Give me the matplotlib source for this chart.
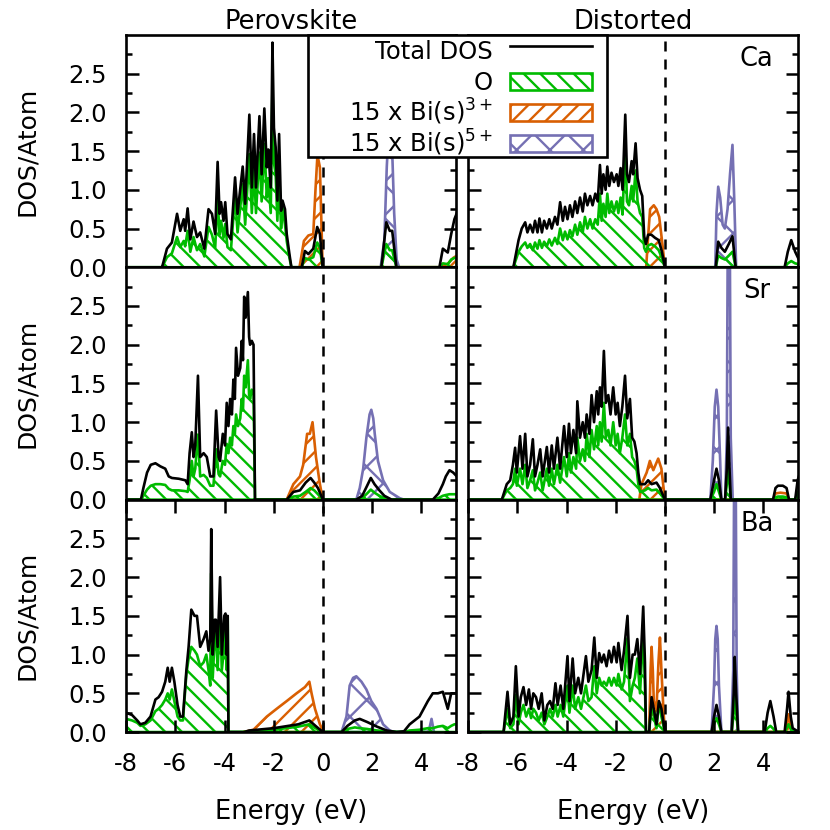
import matplotlib
matplotlib.use("Agg")
import matplotlib.pyplot as plt
from matplotlib.lines import Line2D
from matplotlib.patches import Patch, Rectangle
from matplotlib.legend_handler import HandlerPatch
import numpy as np

plt.rcParams["font.family"] = ["DejaVu Sans"]
plt.rcParams["font.size"] = 17.5
plt.rcParams["axes.unicode_minus"] = False
plt.rcParams["hatch.linewidth"] = 1.7
plt.rcParams["axes.linewidth"] = 1.9

# colours
c_tot = "black"
c_o = "#00bb00"
c_bi3 = "#d95f02"
c_bi5 = "#7570b3"
lw = 1.9

x_ticks = [-8, -6, -4, -2, 0, 2, 4]
col_titles = ["Perovskite", "Distorted"]
row_labels = ["Ca", "Sr", "Ba"]
legend_labels = ["Total DOS", "O", "15 x Bi(s)$^{3+}$", "15 x Bi(s)$^{5+}$"]

# ---- Ca, perovskite ----
ca_perov_e = [-8.0, -6.6, -6.54, -6.34, -6.14, -5.93, -5.8, -5.66, -5.6, -5.5, -5.39, -5.26, -5.12,
              -4.99, -4.82, -4.65, -4.51, -4.38, -4.28, -4.2, -4.14, -4.04, -3.97, -3.88, -3.74,
              -3.57, -3.47, -3.26, -3.16, -2.99, -2.89, -2.8, -2.72, -2.58, -2.49, -2.38, -2.28,
              -2.22, -2.12, -2.05, -1.99, -1.92, -1.85, -1.78, -1.7, -1.64, -1.54, -1.47, -1.36,
              -1.28, -0.86, -0.73, -0.59, -0.39, -0.23, -0.12, -0.01, 2.38, 2.58, 2.72, 2.82, 2.99,
              4.74, 4.88, 5.08, 5.22, 5.35, 5.45]
ca_perov_tot = [0, 0, 0, 0.24, 0.32, 0.69, 0.47, 0.62, 0.47, 0.76, 0.36, 0.59, 0.39,
                0.45, 0.24, 0.75, 0.69, 0.43, 1.36, 0.69, 0.84, 0.6, 0.84, 0.43, 0.36,
                1.16, 0.69, 1.3, 0.82, 1.97, 1.03, 1.72, 1.03, 1.95, 1.2, 2.05, 1.29,
                1.52, 1.03, 2.9, 1.8, 1.55, 0.86, 1.72, 0.73, 0.86, 0.75, 0.43, 0.17,
                0, 0, 0.21, 0.17, 0.24, 0.52, 0.43, 0, 0, 0.58, 0.47, 0.47, 0,
                0, 0.24, 0.19, 0.43, 0.62, 0.7]
ca_perov_o = [0, 0, 0, 0.13, 0.18, 0.39, 0.26, 0.34, 0.27, 0.47, 0.2, 0.39, 0.22,
              0.3, 0.14, 0.52, 0.42, 0.25, 0.88, 0.42, 0.6, 0.38, 0.56, 0.26, 0.22,
              0.94, 0.45, 1.07, 0.55, 1.46, 0.7, 1.3, 0.7, 1.48, 0.85, 1.59, 0.9,
              1.15, 0.7, 2.36, 1.35, 1.2, 0.6, 1.29, 0.5, 0.77, 0.55, 0.34, 0.12,
              0, 0, 0.12, 0.1, 0.13, 0.32, 0.25, 0, 0, 0.3, 0.22, 0.22, 0,
              0, 0.05, 0.04, 0.1, 0.12, 0.12]
ca_perov_bi3_e = [-0.95, -0.77, -0.59, -0.39, -0.3, -0.22, -0.12, -0.01, 4.8, 5.1, 5.3, 5.45]
ca_perov_bi3 = [0, 0.34, 0.41, 0.43, 1.0, 1.45, 1.29, 0, 0, 0.05, 0.12, 0.15]
ca_perov_bi5_e = [2.35, 2.5, 2.6, 2.7, 2.8, 2.9, 3.0, 3.1]
ca_perov_bi5 = [0, 0.35, 1.3, 1.9, 1.7, 0.7, 0.1, 0]

# ---- Ca, distorted ----
ca_dist_e = [-8.0, -6.16, -5.95, -5.82, -5.68, -5.59, -5.48, -5.37, -5.28, -5.18, -5.1, -5.0, -4.91,
             -4.8, -4.7, -4.6, -4.47, -4.37, -4.26, -4.15, -4.06, -3.96, -3.86, -3.76, -3.65,
             -3.56, -3.45, -3.34, -3.25, -3.15, -3.04, -2.94, -2.83, -2.73, -2.64, -2.57, -2.5,
             -2.41, -2.34, -2.26, -2.17, -2.07, -1.96, -1.89, -1.8, -1.72, -1.61, -1.54, -1.46,
             -1.35, -1.29, -1.19, -1.11, -1.01, -0.92, -0.84, -0.77, -0.68, -0.55, -0.4, -0.25,
             -0.12, 0.0, 2.07, 2.17, 2.3, 2.44, 2.6, 2.75, 2.88, 4.87, 5.0, 5.14, 5.3, 5.45]
ca_dist_tot = [0, 0, 0.35, 0.5, 0.58, 0.45, 0.55, 0.45, 0.6, 0.45, 0.63, 0.45, 0.6,
               0.5, 0.62, 0.5, 0.65, 0.55, 0.84, 0.6, 0.78, 0.62, 0.8, 0.65, 0.85,
               0.7, 0.9, 0.72, 0.95, 0.8, 0.92, 0.8, 0.95, 0.85, 1.32, 0.95, 1.2,
               1.0, 1.3, 1.05, 1.22, 1.1, 1.2, 1.05, 1.28, 1.0, 1.97, 1.2, 1.1,
               1.37, 1.2, 1.6, 1.15, 1.0, 0.92, 0.4, 0.3, 0.42, 0.42, 0.38, 0.35,
               0.2, 0, 0, 0.33, 0.25, 0.2, 0.3, 0.4, 0, 0, 0.2, 0.35, 0.2, 0.1]
ca_dist_o = [0, 0, 0.2, 0.27, 0.32, 0.25, 0.3, 0.22, 0.32, 0.24, 0.35, 0.25, 0.33,
             0.27, 0.36, 0.28, 0.38, 0.3, 0.5, 0.35, 0.46, 0.36, 0.48, 0.4, 0.55,
             0.42, 0.58, 0.45, 0.65, 0.5, 0.62, 0.5, 0.62, 0.55, 0.95, 0.6, 0.82,
             0.65, 0.95, 0.7, 0.85, 0.72, 0.85, 0.7, 0.9, 0.68, 1.6, 0.85, 0.8,
             1.05, 0.85, 1.25, 0.85, 0.7, 0.65, 0.25, 0.2, 0.28, 0.3, 0.27, 0.22,
             0.12, 0, 0, 0.15, 0.12, 0.1, 0.15, 0.2, 0, 0, 0.05, 0.08, 0.05, 0.04]
ca_dist_bi3_e = [-0.76, -0.68, -0.6, -0.45, -0.34, -0.23, -0.1, 0.0]
ca_dist_bi3 = [0, 0.4, 0.75, 0.8, 0.75, 0.65, 0.3, 0]
ca_dist_bi5_e = [2.05, 2.1, 2.17, 2.25, 2.35, 2.44, 2.55, 2.65, 2.75, 2.82, 2.9]
ca_dist_bi5 = [0, 0.7, 1.04, 0.9, 0.55, 0.5, 0.75, 1.2, 1.58, 0.9, 0]

# ---- Sr, perovskite ----
sr_perov_e = [-8.0, -7.4, -7.3, -7.15, -7.0, -6.81, -6.61, -6.41, -6.27, -6.14, -5.86, -5.59, -5.5,
              -5.42, -5.33, -5.26, -5.19, -5.08, -4.99, -4.85, -4.72, -4.58, -4.45, -4.34, -4.24,
              -4.18, -4.07, -3.98, -3.91, -3.84, -3.77, -3.7, -3.64, -3.58, -3.53, -3.45, -3.36,
              -3.3, -3.25, -3.2, -3.14, -3.05, -3.0, -2.96, -2.89, -2.82, -2.76, -1.47, -1.2,
              -0.93, -0.7, -0.5, -0.35, -0.2, 0.0, 1.36, 1.6, 1.8, 1.95, 2.1, 2.3, 2.5, 2.8,
              4.47, 4.7, 4.88, 5.0, 5.15, 5.3, 5.45]
sr_perov_tot = [0, 0, 0.15, 0.35, 0.45, 0.47, 0.43, 0.4, 0.3, 0.28, 0.27, 0.25, 0.2,
                0.6, 0.87, 0.55, 0.7, 1.6, 0.55, 0.6, 0.55, 0.3, 0.3, 1.15, 0.55,
                0.5, 0.85, 0.7, 1.25, 0.95, 1.3, 1.1, 1.55, 1.3, 1.96, 1.6, 1.7,
                2.05, 1.8, 2.62, 2.35, 2.68, 2.1, 2.0, 2.05, 2.0, 0, 0, 0.1,
                0.12, 0.22, 0.28, 0.22, 0.15, 0, 0, 0.05, 0.18, 0.28, 0.2, 0.12, 0.05, 0,
                0, 0.08, 0.2, 0.3, 0.38, 0.35, 0.3]
sr_perov_o = [0, 0, 0.05, 0.13, 0.18, 0.2, 0.2, 0.19, 0.14, 0.12, 0.12, 0.11, 0.1,
              0.25, 0.5, 0.3, 0.4, 0.84, 0.3, 0.32, 0.28, 0.18, 0.18, 0.65, 0.33,
              0.3, 0.5, 0.45, 0.72, 0.6, 0.8, 0.7, 0.95, 0.85, 1.1, 0.95, 1.05,
              1.3, 1.15, 1.6, 1.45, 1.8, 1.35, 1.3, 1.42, 1.4, 0, 0, 0.04,
              0.05, 0.1, 0.15, 0.12, 0.07, 0, 0, 0.02, 0.08, 0.13, 0.09, 0.05, 0.02, 0,
              0, 0.02, 0.05, 0.06, 0.07, 0.07, 0.07]
sr_perov_bi3_e = [-1.47, -1.2, -0.93, -0.8, -0.64, -0.53, -0.42, -0.28, -0.12, 0.0]
sr_perov_bi3 = [0, 0.2, 0.3, 0.45, 0.85, 0.85, 1.0, 0.55, 0.2, 0]
sr_perov_bi5_e = [1.36, 1.5, 1.64, 1.77, 1.9, 1.97, 2.05, 2.11, 2.24, 2.45, 2.72, 3.12, 3.3]
sr_perov_bi5 = [0, 0.15, 0.4, 0.8, 1.1, 1.16, 1.05, 0.85, 0.5, 0.25, 0.1, 0.02, 0]

# ---- Sr, distorted ----
sr_dist_e = [-8.0, -6.63, -6.43, -6.29, -6.18, -6.09, -6.02, -5.89, -5.79, -5.68, -5.59, -5.48, -5.37,
             -5.28, -5.18, -5.07, -4.97, -4.8, -4.71, -4.6, -4.51, -4.37, -4.26, -4.1, -3.99,
             -3.9, -3.82, -3.72, -3.61, -3.56, -3.45, -3.34, -3.25, -3.18, -3.07, -2.98, -2.88,
             -2.77, -2.71, -2.64, -2.57, -2.48, -2.4, -2.3, -2.21, -2.1, -2.0, -1.92, -1.83,
             -1.73, -1.62, -1.53, -1.42, -1.33, -1.24, -1.15, -1.08, -1.01, -0.81, -0.68, -0.54,
             -0.34, -0.2, 0.0, 1.85, 2.0, 2.1, 2.2, 2.3, 2.45, 2.52, 2.57, 2.63, 2.68,
             4.4, 4.5, 4.6, 4.8, 4.95, 5.05, 5.3, 5.4, 5.45]
sr_dist_tot = [0, 0, 0.2, 0.25, 0.45, 0.67, 0.35, 0.82, 0.4, 0.85, 0.3, 0.45, 0.78,
               0.3, 0.45, 0.65, 0.3, 0.68, 0.35, 0.7, 0.4, 0.8, 0.4, 0.95, 0.55,
               0.98, 0.6, 0.9, 0.6, 1.27, 0.8, 1.0, 0.8, 1.1, 0.85, 1.35, 1.0,
               1.4, 1.1, 1.45, 1.2, 1.92, 1.25, 1.35, 1.1, 1.45, 1.1, 1.25, 0.95,
               1.2, 1.6, 1.05, 1.3, 0.8, 0.75, 0.6, 0.35, 0.2, 0.2, 0.25, 0.2,
               0.22, 0.15, 0, 0, 0.25, 0.4, 0.25, 0, 0, 0.4, 0.93, 0.4, 0,
               0, 0.15, 0.18, 0.18, 0.15, 0, 0, 0.25, 0.3]
sr_dist_o = [0, 0, 0.12, 0.15, 0.2, 0.4, 0.18, 0.4, 0.2, 0.45, 0.15, 0.25, 0.38,
             0.12, 0.22, 0.35, 0.12, 0.4, 0.18, 0.4, 0.2, 0.45, 0.22, 0.55, 0.3,
             0.6, 0.35, 0.55, 0.4, 0.8, 0.5, 0.65, 0.5, 0.85, 0.55, 0.9, 0.65,
             0.95, 0.7, 1.0, 0.75, 1.25, 0.8, 0.9, 0.7, 1.0, 0.7, 0.85, 0.6,
             0.8, 1.1, 0.7, 0.85, 0.55, 0.5, 0.4, 0.2, 0.1, 0.12, 0.15, 0.12,
             0.13, 0.08, 0, 0, 0.1, 0.2, 0.1, 0, 0, 0.2, 0.5, 0.2, 0,
             0, 0.03, 0.04, 0.04, 0.03, 0, 0, 0.1, 0.1]
sr_dist_bi3_e = [-1.04, -0.95, -0.74, -0.61, -0.47, -0.27, -0.14, 0.0, 4.4, 4.5, 4.7, 4.95, 5.05]
sr_dist_bi3 = [0, 0.2, 0.35, 0.5, 0.38, 0.53, 0.4, 0, 0, 0.08, 0.09, 0.08, 0]
sr_dist_bi5_e = [1.85, 1.95, 2.03, 2.1, 2.17, 2.25, 2.3, 2.45, 2.52, 2.56, 2.64, 2.68, 2.76]
sr_dist_bi5 = [0, 0.5, 1.2, 1.42, 1.2, 0.5, 0, 0, 0.8, 3.5, 3.5, 0.8, 0]

# ---- Ba, perovskite ----
ba_perov_e = [-8.0, -7.76, -7.55, -7.42, -7.22, -7.01, -6.81, -6.68, -6.54, -6.41, -6.31, -6.23, -6.14,
              -6.04, -5.91, -5.8, -5.69, -5.55, -5.46, -5.35, -5.22, -5.12, -4.99, -4.85, -4.74,
              -4.65, -4.58, -4.54, -4.48, -4.4, -4.35, -4.28, -4.18, -4.11, -4.01, -3.96, -3.91,
              -3.87, -3.84, -3.2, -3.0, -2.0, -1.0, -0.55, -0.3, 0.0, 0.76, 1.0, 1.3, 1.5, 1.8,
              2.2, 2.6, 3.0, 3.3, 3.53, 3.93, 4.27, 4.47, 4.68, 4.88, 5.08, 5.22, 5.35, 5.45]
ba_perov_tot = [0.25, 0.22, 0.15, 0.1, 0.12, 0.2, 0.42, 0.45, 0.52, 0.65, 0.83, 0.65, 0.83,
                0.65, 0.35, 0.2, 0.2, 0.8, 1.1, 1.58, 1.5, 1.5, 1.1, 1.2, 1.3,
                1.05, 1.2, 2.62, 1.0, 1.45, 1.45, 1.1, 2.0, 1.0, 1.5, 1.53, 1.0,
                1.5, 0, 0, 0.02, 0.05, 0.1, 0.15, 0.08, 0, 0, 0.08, 0.15, 0.17, 0.13,
                0.07, 0.02, 0, 0.01, 0.1, 0.2, 0.4, 0.5, 0.5, 0.52, 0.3, 0.5, 0.5, 0.5]
ba_perov_o = [0.17, 0.15, 0.12, 0.08, 0.1, 0.15, 0.27, 0.3, 0.35, 0.42, 0.5, 0.42, 0.55,
              0.4, 0.2, 0.15, 0.15, 0.75, 0.95, 1.1, 1.05, 1.0, 0.85, 0.9, 1.0,
              0.8, 0.6, 2.05, 0.7, 1.2, 1.35, 0.8, 1.6, 0.8, 1.1, 1.3, 0.8,
              1.48, 0, 0, 0.01, 0.03, 0.07, 0.1, 0.05, 0, 0, 0.04, 0.06, 0.05, 0.04,
              0.02, 0.01, 0, 0, 0.02, 0.03, 0.05, 0.05, 0.07, 0.08, 0.05, 0.08, 0.1, 0.1]
ba_perov_bi3_e = [-3.23, -2.82, -2.28, -1.88, -1.47, -1.07, -0.73, -0.55, -0.46, -0.32, -0.12, 0.0]
ba_perov_bi3 = [0, 0.03, 0.2, 0.3, 0.4, 0.5, 0.58, 0.65, 0.5, 0.3, 0.1, 0.02]
ba_perov_bi5_e = [0.76, 0.96, 1.09, 1.23, 1.36, 1.57, 1.77, 1.97, 2.18, 2.45, 2.72, 2.9, 4.3, 4.42, 4.52]
ba_perov_bi5 = [0, 0.2, 0.6, 0.7, 0.72, 0.65, 0.55, 0.4, 0.3, 0.1, 0.02, 0, 0, 0.17, 0]

# ---- Ba, distorted ----
ba_dist_e = [-8.0, -6.56, -6.4, -6.29, -6.16, -6.06, -5.95, -5.86, -5.75, -5.64, -5.53, -5.44, -5.35,
             -5.24, -5.13, -5.01, -4.9, -4.78, -4.67, -4.56, -4.45, -4.36, -4.24, -4.13, -3.96,
             -3.88, -3.75, -3.65, -3.52, -3.41, -3.21, -3.11, -2.98, -2.87, -2.77, -2.67, -2.57,
             -2.48, -2.37, -2.27, -2.17, -2.07, -1.96, -1.89, -1.76, -1.66, -1.52, -1.42, -1.31,
             -1.22, -1.12, -1.01, -0.88, -0.81, -0.77, -0.64, -0.54, -0.45, -0.34, -0.24, -0.14,
             0.0, 1.9, 2.0, 2.1, 2.2, 2.3, 2.72, 2.8, 2.84, 2.9, 2.98, 4.06, 4.18, 4.29, 4.42,
             4.53, 4.87, 4.97, 5.03, 5.12, 5.2, 5.45]
ba_dist_tot = [0, 0, 0.52, 0.1, 0.2, 0.85, 0.2, 0.45, 0.58, 0.35, 0.55, 0.3, 0.5,
               0.45, 0.3, 0.5, 0.15, 0.35, 0.4, 0.3, 0.63, 0.35, 0.6, 0.3, 0.98,
               0.4, 0.95, 0.5, 0.7, 0.5, 0.98, 0.65, 0.8, 1.22, 0.7, 1.02, 0.9,
               1.0, 0.85, 1.05, 0.9, 1.1, 0.9, 1.15, 0.8, 1.05, 1.5, 0.7, 1.0,
               1.0, 1.2, 0.75, 1.62, 0.9, 0, 0, 0.45, 0.3, 0.1, 0.4, 0.3,
               0, 0, 0.2, 0.35, 0.2, 0, 0, 0.5, 0.97, 0.5, 0, 0, 0.25, 0.4, 0.2,
               0, 0, 0.3, 0.52, 0.2, 0.05, 0]
ba_dist_o = [0, 0, 0.3, 0.05, 0.1, 0.48, 0.1, 0.25, 0.35, 0.2, 0.3, 0.18, 0.3,
             0.25, 0.15, 0.25, 0.1, 0.2, 0.3, 0.2, 0.35, 0.2, 0.35, 0.2, 0.6,
             0.25, 0.6, 0.3, 0.45, 0.3, 0.6, 0.4, 0.45, 0.85, 0.5, 0.7, 0.6,
             0.65, 0.6, 0.7, 0.6, 0.7, 0.6, 0.75, 0.55, 0.65, 1.21, 0.4, 0.6,
             0.7, 0.95, 0.5, 1.3, 0.6, 0, 0, 0.4, 0.2, 0.05, 0.38, 0.2,
             0, 0, 0.1, 0.18, 0.1, 0, 0, 0.25, 0.5, 0.25, 0, 0, 0.05, 0.08, 0.04,
             0, 0, 0.06, 0.1, 0.04, 0.01, 0]
ba_dist_bi3_e = [-0.64, -0.58, -0.54, -0.49, -0.45, -0.34, -0.26, -0.2, -0.14, -0.06, 0.0, 4.9, 5.03, 5.15]
ba_dist_bi3 = [0, 0.8, 1.1, 0.8, 0.4, 0.3, 0.9, 1.22, 0.8, 0.3, 0, 0, 0.23, 0]
ba_dist_bi5_e = [1.9, 2.0, 2.05, 2.1, 2.15, 2.2, 2.3, 2.7, 2.78, 2.82, 2.88, 2.92, 2.98]
ba_dist_bi5 = [0, 0.6, 1.2, 1.37, 1.2, 0.6, 0, 0, 0.8, 3.5, 3.5, 0.8, 0]

panels = [
    [(ca_perov_e, ca_perov_tot, ca_perov_o, ca_perov_bi3_e, ca_perov_bi3, ca_perov_bi5_e, ca_perov_bi5),
     (ca_dist_e, ca_dist_tot, ca_dist_o, ca_dist_bi3_e, ca_dist_bi3, ca_dist_bi5_e, ca_dist_bi5)],
    [(sr_perov_e, sr_perov_tot, sr_perov_o, sr_perov_bi3_e, sr_perov_bi3, sr_perov_bi5_e, sr_perov_bi5),
     (sr_dist_e, sr_dist_tot, sr_dist_o, sr_dist_bi3_e, sr_dist_bi3, sr_dist_bi5_e, sr_dist_bi5)],
    [(ba_perov_e, ba_perov_tot, ba_perov_o, ba_perov_bi3_e, ba_perov_bi3, ba_perov_bi5_e, ba_perov_bi5),
     (ba_dist_e, ba_dist_tot, ba_dist_o, ba_dist_bi3_e, ba_dist_bi3, ba_dist_bi5_e, ba_dist_bi5)],
]

fig, axes = plt.subplots(3, 2, figsize=(8.3, 8.3), dpi=100, sharex=True, sharey=True,
                         gridspec_kw=dict(hspace=0, wspace=0.038))
fig.subplots_adjust(left=0.152, right=0.961, top=0.958, bottom=0.118)

for r in range(3):
    for c in range(2):
        ax = axes[r, c]
        e, tot, o, e3, bi3, e5, bi5 = panels[r][c]

        # Bi contributions first, then O, then the total line on top
        ax.fill_between(e5, 0, bi5, facecolor="none", edgecolor=c_bi5, hatch="x", linewidth=lw)
        ax.fill_between(e3, 0, bi3, facecolor="none", edgecolor=c_bi3, hatch="//", linewidth=lw)
        ax.fill_between(e, 0, o, facecolor="none", edgecolor=c_o, hatch="\\\\", linewidth=lw)
        ax.plot(e, tot, color=c_tot, lw=lw)

        # Fermi level
        ax.axvline(0, color="black", lw=1.8, ls=(0, (4, 3.2)))

        ax.set_xlim(-8, 5.4)
        ax.set_ylim(0, 3)
        ax.set_xticks(x_ticks)
        ax.set_yticks(np.arange(0, 2.6, 0.5))
        ax.set_yticks(np.arange(0.25, 2.8, 0.5), minor=True)

        ax.tick_params(axis="y", which="both", direction="in", left=True, right=True, width=1.8)
        ax.tick_params(axis="y", which="major", length=9, pad=14)
        ax.tick_params(axis="y", which="minor", length=4.5)
        if r == 2:
            ax.tick_params(axis="x", which="major", direction="in", bottom=True, top=True,
                           length=9, width=1.8, pad=14)
            ax.set_xlabel("Energy (eV)", fontsize=18.5, labelpad=17)
        else:
            ax.tick_params(axis="x", which="both", bottom=False, top=False)

        if c == 0:
            ax.set_ylabel("DOS/Atom", fontsize=18, labelpad=21)
        else:
            ax.text(0.876, 0.897, row_labels[r], transform=ax.transAxes,
                    ha="center", va="center", fontsize=18.5)
        if r == 0:
            ax.set_title(col_titles[c], fontsize=18.5, pad=2)


def small_box(legend, orig_handle, xdescent, ydescent, width, height, fontsize):
    # keep the swatch short while the row itself is as tall as a superscript label
    return Rectangle((-xdescent, 0), width, 0.7 * fontsize)


# legend frame drawn separately so it can sit across both columns
fig.patches.append(Rectangle((308 / 830, 1 - 157 / 830), 299 / 830, 122 / 830,
                             transform=fig.transFigure, facecolor="white",
                             edgecolor="black", lw=1.9, zorder=4))
handles = [
    Line2D([], [], color=c_tot, lw=lw),
    Patch(facecolor="white", edgecolor=c_o, hatch="\\\\", lw=lw),
    Patch(facecolor="white", edgecolor=c_bi3, hatch="//", lw=lw),
    Patch(facecolor="white", edgecolor=c_bi5, hatch="x", lw=lw),
]
leg = fig.legend(handles, legend_labels, loc="upper right", bbox_to_anchor=(592 / 830, 1 - 34 / 830),
                 frameon=False, markerfirst=False, handlelength=3.37, handleheight=1.78,
                 handletextpad=0.7, labelspacing=-0.12, borderpad=0, borderaxespad=0,
                 fontsize=17.5, handler_map={Patch: HandlerPatch(patch_func=small_box)})
leg.set_zorder(5)

fig.savefig("out.png", dpi=100)
